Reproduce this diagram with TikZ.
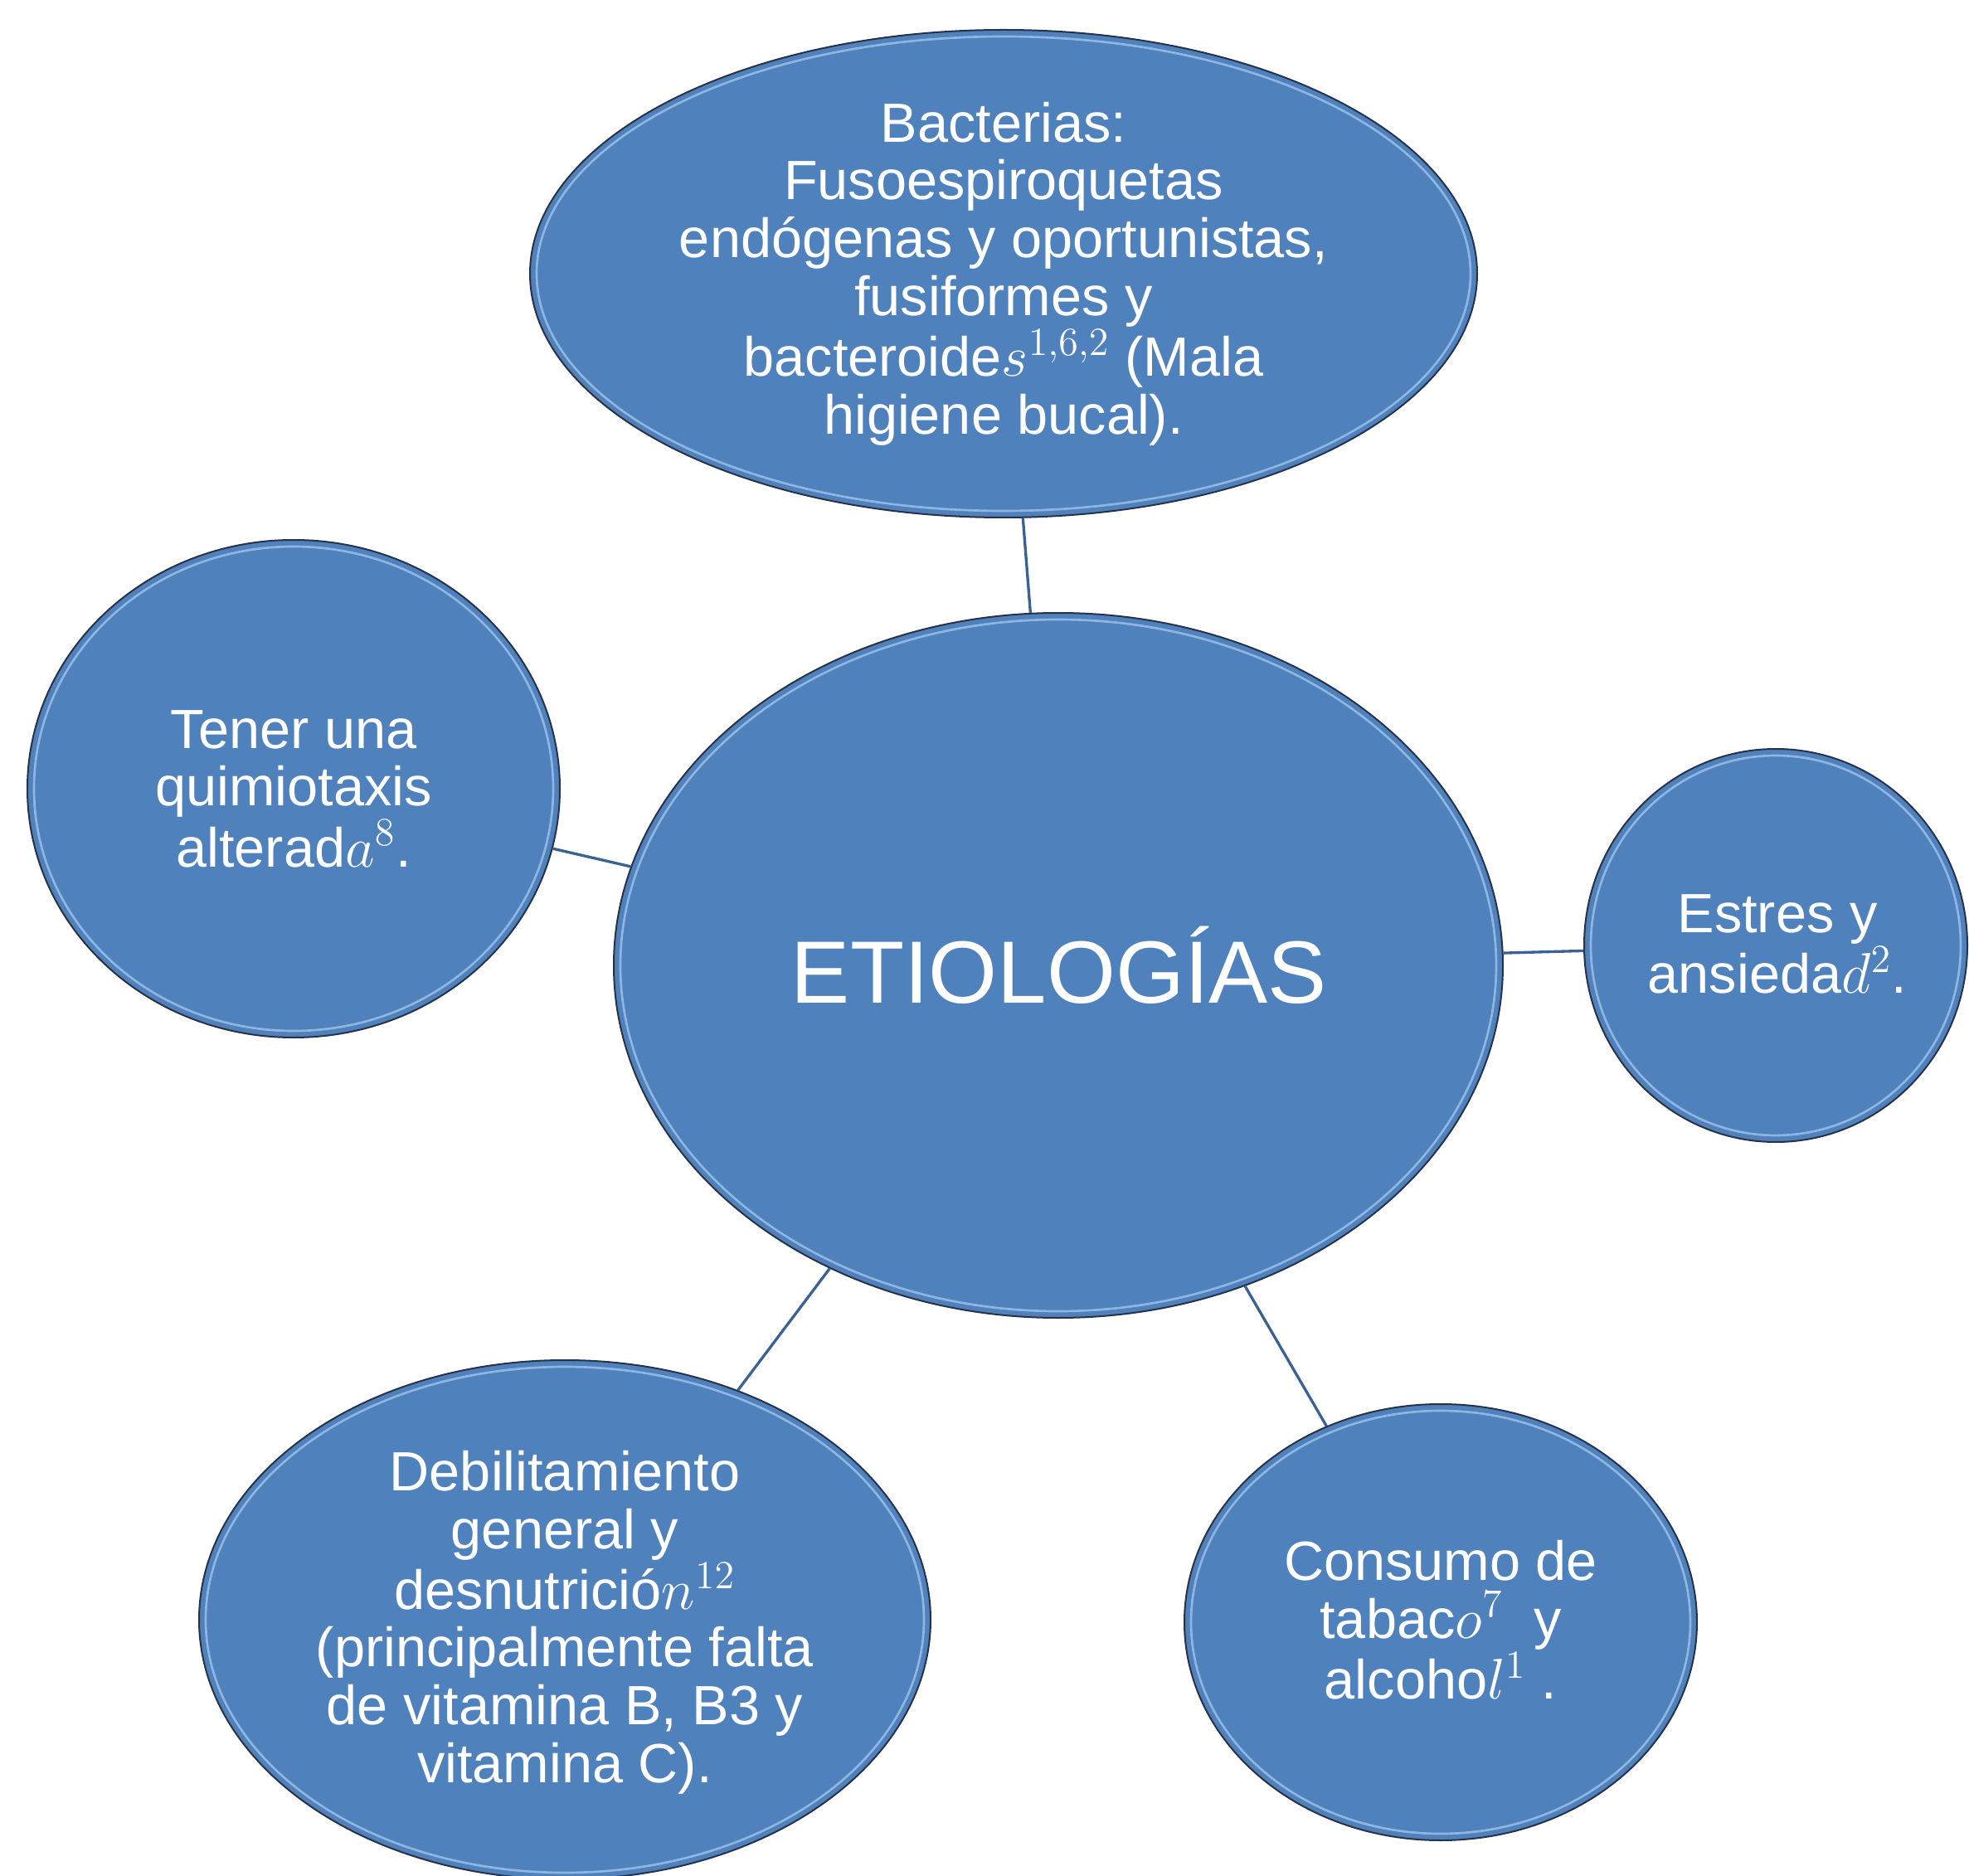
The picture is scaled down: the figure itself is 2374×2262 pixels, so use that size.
\documentclass[tikz,border=0pt]{standalone}
\usepackage{fontspec}
\setmainfont{Liberation Sans}
\usetikzlibrary{shapes.geometric}
\definecolor{bubfill}{RGB}{79,129,189}
\definecolor{bubline}{RGB}{40,50,70}
\definecolor{conn}{RGB}{58,98,148}
\definecolor{hilite}{RGB}{170,205,240}
\tikzset{
  bub/.style 2 args={ellipse, draw=bubline, line width=0.6pt, fill=bubfill, inner sep=0pt,
    minimum width=#1*0.6pt, minimum height=#2*0.6pt},
  txt/.style={text=white, align=center, inner sep=0pt, font=\fontsize{20pt}{20.9pt}\selectfont},
  hl/.style={draw=hilite, line width=0.8pt, opacity=0.7},
  link/.style={draw=conn, line width=1pt}
}
\begin{document}
\begin{tikzpicture}[x=0.3pt,y=-0.3pt]
\useasboundingbox (0,0) rectangle (2374,2262);
% bubbles
\node[bub={571}{294}] (top) at (1210,330) {};
\node[bub={536}{425}] (mid) at (1276,1164) {};
\node[bub={321}{300}] (left) at (354,951) {};
\node[bub={231}{237}] (right) at (2141,1140) {};
\node[bub={441}{313}] (bl) at (681,1953) {};
\node[bub={309}{263}] (br) at (1737,1956) {};
% highlights
\draw[hl] (top.center) ellipse [x radius=563, y radius=286];
\draw[hl] (mid.center) ellipse [x radius=528, y radius=417];
\draw[hl] (left.center) ellipse [x radius=313, y radius=292];
\draw[hl] (right.center) ellipse [x radius=223, y radius=229];
\draw[hl] (bl.center) ellipse [x radius=433, y radius=305];
\draw[hl] (br.center) ellipse [x radius=301, y radius=255];
% connectors
\draw[link] (mid) -- (top);
\draw[link] (mid) -- (left);
\draw[link] (mid) -- (right);
\draw[link] (mid) -- (bl);
\draw[link] (mid) -- (br);
% texts
\node[txt] (ttop) at (1210,330) {Bacterias:\\Fusoespiroquetas\\endógenas y oportunistas,\\fusiformes y\\bacteroide$s^{1,6,2}$ (Mala\\higiene bucal).};
\node[txt, font=\fontsize{32pt}{36pt}\selectfont] (tmid) at (1277,1164) {ETIOLOGÍAS};
\node[txt] (tleft) at (354,951) {Tener una\\quimiotaxis\\alterad$a^{8}$.};
\node[txt] (tright) at (2143,1138) {Estres y\\ansieda$d^{2}$.};
\node[txt] (tbl) at (681,1956) {Debilitamiento\\general y\\desnutrició$n^{12}$\\(principalmente falta\\de vitamina B, B3 y\\vitamina C).};
\node[txt] (tbr) at (1737,1953) {Consumo de\\tabac$o^{7}$\ \ y\\alcoho$l^{1}$\ .};
\end{tikzpicture}
\end{document}
